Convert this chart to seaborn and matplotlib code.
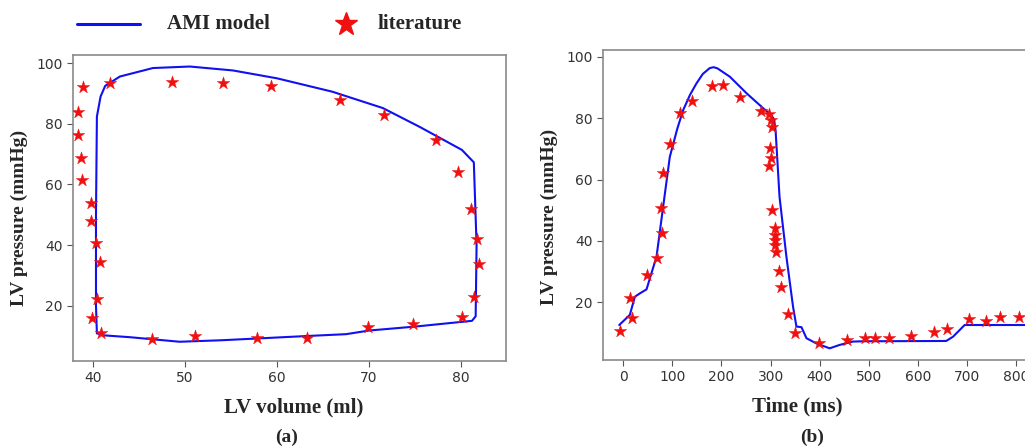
import matplotlib
matplotlib.use('Agg')
import matplotlib.pyplot as plt
import seaborn as sns
import pandas as pd
from matplotlib.lines import Line2D

# (a) pressure-volume loop, AMI model
pv_volume = [40.4, 41.2, 44.0, 49.4, 54.0, 58.0, 63.3, 67.5, 70.0, 75.0, 81.2, 81.6, 81.7,
             81.4, 80.1, 75.5, 71.5, 66.0, 60.0, 55.2, 50.5, 46.5, 42.9, 41.3, 40.8,
             40.4, 40.3, 40.3, 40.4]
pv_pressure = [10.9, 10.2, 9.6, 8.1, 8.6, 9.2, 10.0, 10.6, 11.8, 13.1, 15.0, 16.5, 40.0,
               67.3, 71.4, 79.0, 85.2, 90.6, 95.0, 97.6, 98.9, 98.4, 95.6, 92.5, 89.0,
               82.4, 50.0, 20.0, 10.9]

# (a) literature points
lit_volume = [38.9, 38.3, 38.3, 38.7, 38.8, 39.8, 39.8, 40.3, 40.7, 40.4, 39.9, 40.9,
              46.4, 51.1, 57.8, 63.3, 69.9, 74.8, 80.1, 81.4, 82.0, 81.7, 81.1, 79.7,
              77.3, 71.6, 66.8, 59.3, 54.1, 48.6, 41.8]
lit_pv_pressure = [92.0, 84.0, 76.3, 68.6, 61.5, 54.0, 48.0, 40.8, 34.3, 22.2, 15.8, 10.9,
                   8.9, 10.0, 9.2, 9.4, 12.9, 13.9, 16.4, 22.8, 33.8, 42.0, 51.8, 64.2,
                   74.5, 82.9, 87.7, 92.5, 93.4, 93.7, 93.4]

# (b) pressure over time, AMI model
t_model = [-8, 13.6, 23.8, 33.9, 47.5, 67.9, 81.3, 94.9, 110, 122, 136, 149, 162, 176,
           184, 192, 203, 217, 251, 285, 300, 307, 310, 313, 318, 332, 345.5, 352.4,
           362.6, 372.8, 393, 420, 440, 467, 488, 657, 671, 694.5, 860]
p_model = [12.6, 15.9, 21.8, 22.9, 24.2, 34.9, 51.1, 67.4, 76.5, 82.6, 87.6, 91.3, 94.4,
           96.3, 96.6, 96.2, 95.0, 93.5, 88.1, 83.2, 81.2, 79.6, 76.0, 68.0, 54.4, 34.9,
           18.6, 12.1, 11.9, 8.3, 6.6, 5.0, 6.1, 7.2, 7.3, 7.4, 8.8, 12.6, 12.6]

# (b) literature points
t_lit = [-6.7, 13.6, 17, 47.5, 67.9, 79.3, 76.6, 80.1, 94.9, 115.2, 141, 181.7, 203, 237,
         281, 296.7, 301.6, 302.8, 299.6, 301.6, 296.7, 303.7, 308.3, 308.3, 308.3, 309.8,
         311.8, 317, 320.5, 335.4, 350.4, 397.8, 455.3, 491, 511.6, 540, 586, 632, 658.5,
         702.6, 738.6, 765.6, 806]
p_lit = [10.6, 21.5, 15.0, 28.9, 34.3, 42.5, 50.6, 62.2, 71.5, 81.6, 85.6, 90.5, 90.8, 87.0,
         82.3, 81.2, 79.4, 77.2, 70.4, 66.9, 64.4, 50.1, 44.1, 41.9, 40.3, 38.7, 36.3, 30.2,
         25.1, 16.2, 10.1, 6.6, 7.7, 8.3, 8.5, 8.5, 9.1, 10.4, 11.2, 14.5, 13.9, 15.3, 15.3]

df_loop = pd.DataFrame({'volume': pv_volume, 'pressure': pv_pressure})
df_loop_lit = pd.DataFrame({'volume': lit_volume, 'pressure': lit_pv_pressure})
df_time = pd.DataFrame({'time': t_model, 'pressure': p_model})
df_time_lit = pd.DataFrame({'time': t_lit, 'pressure': p_lit})

sns.set_style('white')

W, H = 1025, 448
fig = plt.figure(figsize=(W / 100, H / 100), dpi=100)

ax1 = fig.add_axes([73 / W, 1 - 361 / H, 433 / W, 306 / H])
ax2 = fig.add_axes([603 / W, 1 - 360 / H, 443 / W, 310 / H])

line_col = '#1010f0'
star_col = '#f01010'
lbl_font = dict(family='Liberation Serif', weight='bold')

sns.lineplot(data=df_loop, x='volume', y='pressure', sort=False, estimator=None,
             color=line_col, lw=1.5, ax=ax1)
sns.scatterplot(data=df_loop_lit, x='volume', y='pressure', marker='*', s=90,
                color=star_col, edgecolor=star_col, linewidth=0.3, ax=ax1, zorder=3)

sns.lineplot(data=df_time, x='time', y='pressure', sort=False, estimator=None,
             color=line_col, lw=1.5, ax=ax2)
sns.scatterplot(data=df_time_lit, x='time', y='pressure', marker='*', s=90,
                color=star_col, edgecolor=star_col, linewidth=0.3, ax=ax2, zorder=3)

ax1.set_xlim(37.8, 84.9)
ax1.set_ylim(1.75, 102.7)
ax1.set_xticks([40, 50, 60, 70, 80])
ax2.set_xlim(-41, 860)
ax2.set_ylim(1.2, 102.2)
ax2.set_xticks([0, 100, 200, 300, 400, 500, 600, 700, 800])

for ax in (ax1, ax2):
    ax.set_yticks([20, 40, 60, 80, 100])
    ax.tick_params(axis='both', direction='out', length=4, width=0.8, color='#555555',
                   labelsize=10, labelcolor='#333333', bottom=True, left=True)
    for sp in ax.spines.values():
        sp.set_color('#8a8a8a')
        sp.set_linewidth(1.2)
    ax.set_ylabel('LV pressure (mmHg)', fontsize=14, **lbl_font)

ax1.set_xlabel('LV volume (ml)', fontsize=15, **lbl_font)
ax2.set_xlabel('Time (ms)', fontsize=15, **lbl_font)
ax1.xaxis.set_label_coords(0.51, -0.118)
ax2.xaxis.set_label_coords(0.438, -0.119)
ax1.yaxis.set_label_coords(-0.104, 0.467)
ax2.yaxis.set_label_coords(-0.102, 0.461)

# panel captions
fig.text(287 / W, 1 - 437 / H, '(a)', ha='center', va='center', fontsize=14, **lbl_font)
fig.text(812 / W, 1 - 437 / H, '(b)', ha='center', va='center', fontsize=14, **lbl_font)

# legend across the top
fig.add_artist(Line2D([77 / W, 140 / W], [1 - 24 / H, 1 - 24 / H], color=line_col, lw=2.2,
                      transform=fig.transFigure))
fig.add_artist(Line2D([346 / W], [1 - 24 / H], marker='*', markersize=17, color=star_col,
                      lw=0, transform=fig.transFigure))
fig.text(167 / W, 1 - 24 / H, 'AMI model', ha='left', va='center', fontsize=15, **lbl_font)
fig.text(378 / W, 1 - 24 / H, 'literature', ha='left', va='center', fontsize=15, **lbl_font)

fig.savefig('out.png', dpi=100)
